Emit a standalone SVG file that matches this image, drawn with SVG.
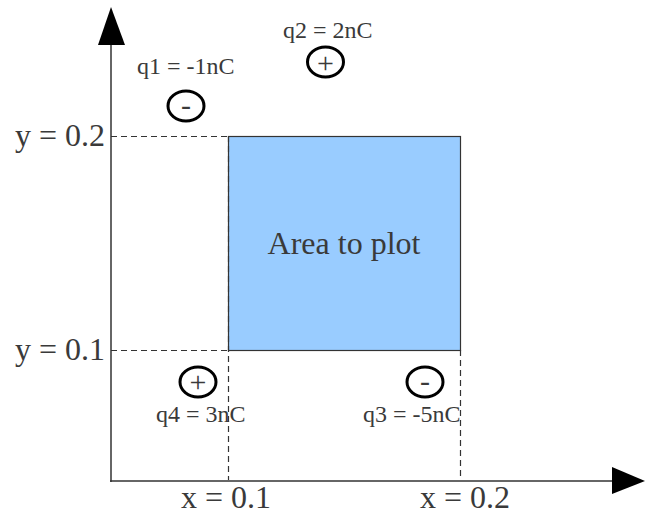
<svg xmlns="http://www.w3.org/2000/svg" width="645" height="518" viewBox="0 0 645 518">
<style>
.t{font-family:"Liberation Serif","Times New Roman",serif;fill:#3a3a3a}
.big{font-size:32px}
.lbl{font-size:24px}
.sign{font-size:30px}
.dash{stroke:#333333;stroke-width:1.2;stroke-dasharray:6 4;fill:none}
.axis{stroke:#333333;stroke-width:1.5;fill:none}
.chg{fill:none;stroke:#000000;stroke-width:3}
</style>
<rect width="645" height="518" fill="#ffffff"/>
<g id="area">
<rect x="228.5" y="136.5" width="232" height="214" fill="#99ccff" stroke="#333333" stroke-width="1.2"/>
<text class="t" x="344" y="254" font-size="32" text-anchor="middle">Area to plot</text>
</g>
<g id="connectors">
<line class="dash" x1="111" y1="136.5" x2="228" y2="136.5"/>
<line class="dash" x1="111" y1="350.5" x2="228" y2="350.5"/>
<line class="dash" x1="228.5" y1="136" x2="228.5" y2="480"/>
<line class="dash" x1="460.5" y1="350" x2="460.5" y2="480"/>
<line class="axis" x1="111" y1="482" x2="111" y2="44"/>
<polygon points="111,7 98,45 125,45" fill="#000000"/>
<line class="axis" x1="110" y1="481" x2="612" y2="481"/>
<polygon points="645,481 612,467 612,494" fill="#000000"/>
</g>
<g id="axis-labels">
<text class="t big" x="15" y="146">y = 0.2</text>
<text class="t big" x="15" y="360">y = 0.1</text>
<text class="t big" x="181" y="508">x = 0.1</text>
<text class="t big" x="420" y="508">x = 0.2</text>
</g>
<g id="q1">
<ellipse class="chg" cx="186" cy="106" rx="18" ry="15"/>
<text class="t sign" x="186" y="115" text-anchor="middle">-</text>
<text class="t lbl" x="137" y="74">q1 = -1nC</text>
</g>
<g id="q2">
<ellipse class="chg" cx="325.5" cy="62" rx="18" ry="15"/>
<text class="t sign" x="325.5" y="72.5" text-anchor="middle">+</text>
<text class="t lbl" x="283" y="38">q2 = 2nC</text>
</g>
<g id="q4">
<ellipse class="chg" cx="198" cy="382" rx="18" ry="15"/>
<text class="t sign" x="198" y="392" text-anchor="middle">+</text>
<text class="t lbl" x="156" y="422">q4 = 3nC</text>
</g>
<g id="q3">
<ellipse class="chg" cx="425" cy="382" rx="18" ry="15"/>
<text class="t sign" x="425" y="391" text-anchor="middle">-</text>
<text class="t lbl" x="363" y="422">q3 = -5nC</text>
</g>
</svg>
